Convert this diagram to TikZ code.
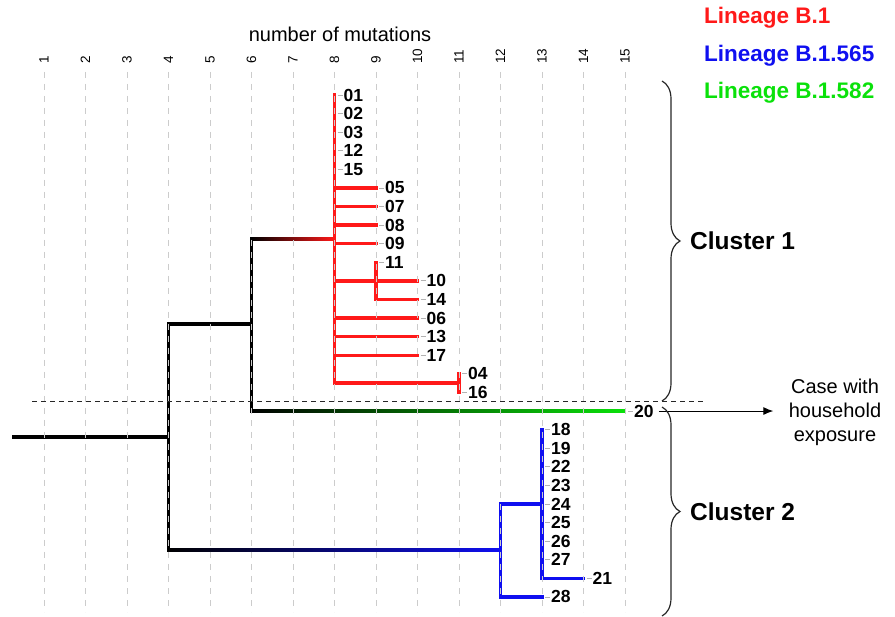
\documentclass[tikz,border=0pt]{standalone}
\usepackage{fontspec}
\setmainfont{Liberation Sans}
\usetikzlibrary{calc,arrows.meta,decorations.pathreplacing}
\definecolor{lineageA}{RGB}{255,25,25}
\definecolor{lineageB}{RGB}{15,15,240}
\definecolor{lineageC}{RGB}{10,225,10}
\newcommand{\mx}[1]{(2.5+41.5*#1)}
\newcommand{\ry}[1]{(95+18.59*#1)}

\begin{document}
\begin{tikzpicture}[x=1pt,y=-1pt,
	branch/.style={line width=3.4pt,line cap=rect},
	gridline/.style={gray!40,line width=0.9pt,dash pattern=on 6pt off 6pt},
	leaftick/.style={gray!60,line width=0.8pt},
	leaflab/.style={anchor=west,inner sep=0pt,font=\fontsize{17.5}{18}\selectfont\bfseries},
	axislab/.style={rotate=90,anchor=west,inner sep=0pt,font=\fontsize{13.5}{14}\selectfont},
	lineage/.style={anchor=west,inner sep=0pt,font=\fontsize{22.5}{23}\selectfont\bfseries},
	cluster/.style={decorate,decoration={brace,amplitude=18pt},line width=1.2pt,black!85},
	clusterlab/.style={anchor=west,inner sep=0pt,font=\fontsize{24.5}{25}\selectfont\bfseries}]
\useasboundingbox (0,0) rectangle (895,617);
% leaves: name/mutations/row
\foreach \id/\m/\r in {01/8/0,02/8/1,03/8/2,12/8/3,15/8/4,05/9/5,07/9/6,08/9/7,09/9/8,
	11/9/9,10/10/10,14/10/11,06/10/12,13/10/13,17/10/14,04/11/15,16/11/16,20/15/17,
	18/13/18,19/13/19,22/13/20,23/13/21,24/13/22,25/13/23,26/13/24,27/13/25,21/14/26,28/13/27}{
	\coordinate (t\id) at ({\mx{\m}},{\ry{\r}});
	\draw[leaftick] ([xshift=3pt]t\id) -- ++(5,0);
	\node[leaflab] (l\id) at ([xshift=9pt]t\id) {\id};
}
% inner nodes
\coordinate (root) at (14,437);
\coordinate (a4) at ({\mx{4}},437);
\coordinate (a6) at ({\mx{6}},324);
\coordinate (a8) at ({\mx{8}},239);
\coordinate (a9) at (t11|-t10);
\coordinate (a11) at ($(t04)!.5!(t16)$);
\coordinate (b12) at ({\mx{12}},550);
% shaded branches
\shade[left color=black,right color=lineageA] ($(a6|-a8)+(0,-1.7)$) rectangle ($(a8)+(0,1.7)$);
\shade[left color=black,right color=lineageC] ($(a6|-t20)+(0,-1.7)$) rectangle ($(t20)+(0,1.7)$);
\shade[left color=black,right color=lineageB] ($(a4|-b12)+(0,-1.7)$) rectangle ($(b12)+(0,1.7)$);
\draw[branch] (root) -- (a4);
\draw[branch] (a4|-a6) -- (a4|-b12);
\draw[branch] (a4|-a6) -- (a6);
\draw[branch] (a6|-a8) -- (a6|-t20);
% cluster 1
\draw[branch,lineageA] (t01) -- (a8|-a11) -- (a11);
\foreach \c in {05,07,08,09,06,13,17}
	\draw[branch,lineageA] (a8|-t\c) -- (t\c);
\draw[branch,lineageA] (a8|-a9) -- (t10);
\draw[branch,lineageA] (t11) -- (a9|-t14) -- (t14);
\draw[branch,lineageA] (t04) -- (t16);
% cluster 2
\draw[branch,lineageB] (b12|-t24) -- (b12|-t28) -- (t28);
\draw[branch,lineageB] (b12|-t24) -- (t24);
\draw[branch,lineageB] (t18) -- (t18|-t21) -- (t21);
% axis
\foreach \n in {1,...,15}{
	\draw[gridline] ({\mx{\n}},72) -- ({\mx{\n}},612);
	\node[axislab] (ax\n) at ({\mx{\n}},64) {\n};
}
\node[font=\fontsize{20}{20}\selectfont] (axtitle) at (340,34) {number of mutations};
\coordinate (sepL) at (32,402);
\coordinate (sepR) at (705,402);
\draw[gray!30!black,line width=1pt,dash pattern=on 5pt off 4pt] (sepL) -- (sepR);
% household case
\node[align=center,font=\fontsize{20}{24}\selectfont] (case) at (835,412) {Case with\\household\\exposure};
\draw[line width=1pt,-{Latex[length=10pt,width=8pt]},shorten >=12pt] ([xshift=5pt]l20.east) -- (case.west|-l20.east);
% clusters
\coordinate (c1top) at (662,81);
\coordinate (c1bot) at (662,401);
\coordinate (c2top) at (662,407);
\coordinate (c2bot) at (662,616);
\draw[cluster] (c1top) -- (c1bot);
\draw[cluster] (c2top) -- (c2bot);
\node[clusterlab] (cl1) at (690,241) {Cluster 1};
\node[clusterlab] (cl2) at (690,512) {Cluster 2};
% legend
\node[lineage,lineageA] (legA) at (704,18) {Lineage B.1};
\node[lineage,lineageB] (legB) at (704,56) {Lineage B.1.565};
\node[lineage,lineageC] (legC) at (704,93) {Lineage B.1.582};
\end{tikzpicture}
\end{document}
